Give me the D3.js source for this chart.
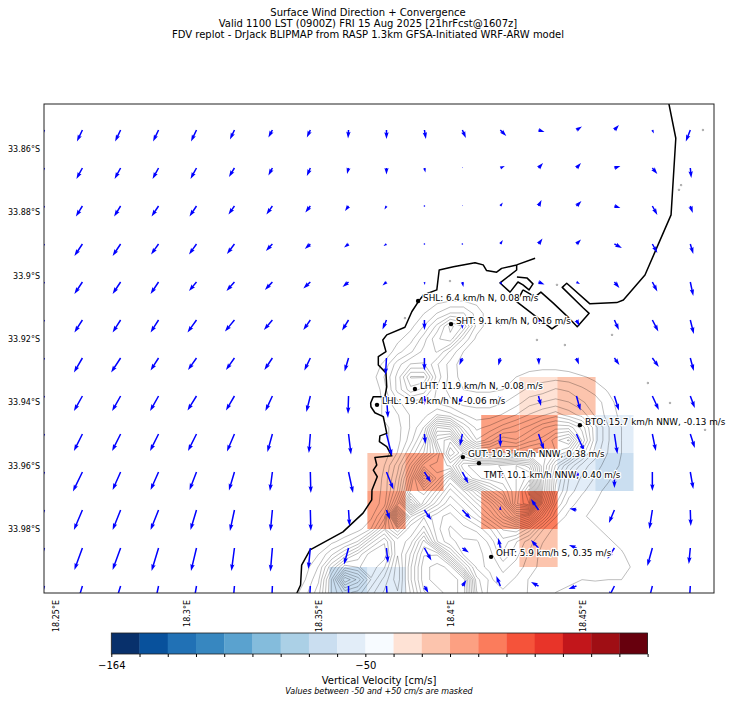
<!DOCTYPE html>
<html><head><meta charset="utf-8">
<script src="https://cdn.jsdelivr.net/npm/d3@7"></script>
<style>html,body{margin:0;padding:0;background:#fff}svg{display:block}text{font-family:"DejaVu Sans",sans-serif;fill:#000}</style>
</head><body><svg id="c" width="733" height="702"></svg>
<script>
const titleLines=["Surface Wind Direction + Convergence","Valid 1100 LST (0900Z) FRI 15 Aug 2025 [21hrFcst@1607z]","FDV replot - DrJack BLIPMAP from RASP 1.3km GFSA-Initiated WRF-ARW model"];
const lonTicks=[18.25,18.3,18.35,18.4,18.45];
const latTicks=[33.86,33.88,33.9,33.92,33.94,33.96,33.98];
const windLons=[18.2604,18.2749,18.2893,18.3037,18.3181,18.3325,18.3469,18.3614,18.3758,18.3902,18.4046,18.4190,18.4335,18.4479,18.4623,18.4767,18.4911];
const windLats=[33.8540,33.8660,33.8780,33.8900,33.9020,33.9140,33.9260,33.9380,33.9500,33.9620,33.9740,33.9860,33.9980];
const edgeLon=18.2460;
const windU=[
[-1.1,-1.1,-1.1,-1.1,-.9,-.8,-.7,-.1,0,.3,.7,1.2,1.2,1.1,.9,.3,-.9],
[-1.2,-1.2,-1.2,-1.2,-1.1,-.8,-.7,-.3,0,.2,.1,.9,.9,.9,1.2,1,.2],
[-1.3,-1.3,-1.4,-1.4,-1.2,-1.2,-1,-.7,-.4,.1,.1,.5,.6,1,1.2,1,.5],
[-1.6,-1.6,-1.5,-1.5,-1.5,-1.3,-1.1,-.9,-.6,0,0,.5,.8,.9,1.5,1,.6],
[-1.6,-1.6,-1.6,-1.5,-1.6,-1.5,-1.4,-1.2,-.8,.1,.2,.4,1.2,.7,1,1,.6],
[-1.6,-1.6,-1.6,-1.8,-1.9,-1.7,-1.4,-1.3,-.8,0,0,0,.3,.6,.9,1.2,.7],
[-1.7,-1.9,-1.6,-1.7,-1.7,-1.6,-1.2,-.8,-.2,0,-.6,-.4,.1,.5,1,1.3,.7],
[-1.7,-1.7,-1.7,-1.8,-1.7,-1.4,-.8,-.1,.3,0,-.8,0,.5,.8,.9,1.3,.9],
[-1.7,-1.7,-1.7,-1.7,-1.5,-1,-.3,.5,1.1,.2,-.5,0,1.1,1.6,.6,.7,.9],
[-1.9,-1.6,-1.6,-1.4,-1.1,-.5,.1,.9,1.4,1.3,1.2,.4,.1,.4,0,0,.6],
[-1.7,-1.6,-1.6,-1.2,-.9,-.4,.1,.2,.7,1.4,1.7,0,-1.5,-1.4,-1.1,-.6,.1],
[-1.6,-1.6,-1.4,-1.1,-.6,-.4,-.4,-.9,.3,1.4,1.3,-.4,-1.5,-1.5,-1.4,-1,-.3],
[-1.4,-1.4,-1,-.8,-.4,-.2,-.2,0,.2,.8,.8,-.8,-1.5,-1.6,-1.2,-.8,-.2]];
const windV=[
[-2.3,-2.3,-2.3,-2.3,-1.9,-1.5,-1.5,-1.7,-1.8,-1.8,-1.6,-1.2,-.4,.7,1,-.7,-2.3],
[-2.2,-2.2,-2.2,-2.2,-1.8,-1.5,-1.6,-1.2,-1.3,-.9,.2,.4,1,1,.4,-1.2,-2],
[-2.1,-2.1,-2.1,-2.1,-1.7,-1.7,-1.3,-1,-.7,0,.2,.7,1.2,1,-.4,-1.8,-1.4],
[-2.4,-2.4,-2.1,-2.1,-2,-1.4,-1,-.7,-.4,-.1,0,.8,1.1,.9,-.8,-1.8,-2],
[-2.4,-2.4,-2.4,-1.8,-1.8,-1.6,-1.3,-1,-.7,-.6,-1,-.6,-.5,-.4,-1.2,-1.9,-2.8],
[-2.5,-2.5,-2.5,-2.5,-2.3,-2,-2,-2.1,-1.9,-2,-1.8,-1.2,-1,-1.2,-2,-2.3,-2.8],
[-2.9,-2.9,-2.5,-2.4,-2.4,-2.4,-2.5,-2.7,-3.4,-2.5,-1.4,-1.5,-1.4,-1.3,-1.4,-1.8,-2.6],
[-3,-3,-3,-2.9,-2.9,-3,-3.2,-3.6,-4.4,-1.8,-1.8,-1.2,-2,-2.9,-2.9,-2.8,-2.4],
[-3.4,-3.4,-3.4,-3.4,-3.5,-3.6,-3.8,-4.1,-4.4,-2,-2.4,-2.6,-3.2,-3.5,-4,-3.4,-2.8],
[-3.9,-3.6,-3.6,-3.6,-3.7,-3.8,-4.2,-4.2,-3.5,-2.1,-2.3,-1,-1,-1.6,-3.2,-3.8,-3.4],
[-4,-4,-4,-4,-4.2,-4.2,-4.2,-3.2,-1.9,-2,-1.8,.8,2.2,.3,-2.6,-3.8,-3.2],
[-4.4,-4.4,-4.6,-4.6,-4.6,-4.7,-4.2,-3.3,-3,-2.5,-.9,2,1.6,.6,-2.2,-3.6,-3.2],
[-4.6,-4.4,-4.6,-4.6,-4.6,-4.6,-3.6,-3,-3,-1.4,1.2,2,.8,-.6,-2.4,-3.2,-3.2]];
const velCol=[12,13,11,12,14,8,9,13,14,8,11,12,12,7,8];
const velRow=[7,7,8,8,8,9,9,9,9,10,10,10,11,12,12];
const velVal=[56,69,82,82,-56,69,82,-56,-69,82,82,94,69,-69,-56];
const cbColors=["#08306b","#08519c","#2171b5","#3787c0","#5aa2cf","#84bcdc","#abd0e6","#cadef0","#e2edf8","#f7fbff","#fee2d5","#fcc4ad","#fca082","#fb7c5c","#f5533a","#e83429","#c2161b","#9f0e14","#67000d"];
const cbEdges=[-164,-151.3,-138.7,-126,-113.3,-100.7,-88,-75.3,-62.7,-50,50,62.7,75.3,88,100.7,113.3,126,138.7,151.3,164];
const cbLabels={0:"\u2212164",9:"\u221250"};
const stationNames=["SHL: 6.4 km/h N, 0.08 m/s","SHT: 9.1 km/h N, 0.16 m/s","LHT: 11.9 km/h N, -0.08 m/s","LHL: 19.4 km/h N, -0.06 m/s","BTO: 15.7 km/h NNW, -0.13 m/s","GUT: 10.3 km/h NNW, 0.38 m/s","TMT: 10.1 km/h NNW, 0.40 m/s","OHT: 5.9 km/h S, 0.35 m/s"];
const stationLons=[18.3878,18.4003,18.3866,18.3722,18.4492,18.4048,18.4109,18.4155];
const stationLats=[33.9080,33.9153,33.9358,33.9408,33.9472,33.9573,33.9592,33.9888];
const coastWest=[[18.3415,34.0024],[18.3418,34.0002],[18.3432,33.9977],[18.3436,33.9914],[18.3468,33.9866],[18.3593,33.9809],[18.3669,33.9750],[18.3702,33.9708],[18.3703,33.9677],[18.3723,33.9635],[18.3708,33.9614],[18.3721,33.9598],[18.3714,33.9574],[18.3778,33.9569],[18.3759,33.9540],[18.3731,33.9524],[18.3733,33.9506],[18.3759,33.9498],[18.3746,33.9445],[18.3714,33.9433],[18.3699,33.9414],[18.3698,33.9402],[18.3708,33.9382],[18.3752,33.9382],[18.3759,33.9351],[18.3756,33.9307],[18.3727,33.9282],[18.3727,33.9256],[18.3756,33.9240],[18.3744,33.9203],[18.3759,33.9187],[18.3828,33.9163],[18.3854,33.9114],[18.3879,33.9082],[18.3898,33.9061],[18.3949,33.9045],[18.3958,33.8982],[18.4012,33.8972],[18.4094,33.8959],[18.4125,33.8966],[18.4138,33.8984],[18.4176,33.8989],[18.4195,33.8977],[18.4252,33.8966],[18.4322,33.8945]];
const coastDock=[[18.4252,33.8966],[18.4252,33.8982],[18.4189,33.9023],[18.4227,33.9052],[18.4257,33.9020],[18.4276,33.9029],[18.4299,33.9045],[18.4314,33.9026],[18.4291,33.9007],[18.4253,33.9004]];
const coastBasin=[[18.4276,33.9045],[18.4253,33.9083],[18.4386,33.9168],[18.4447,33.9131],[18.4390,33.9086],[18.4344,33.9052],[18.4322,33.9067],[18.4276,33.9045]];
const coastEast=[[18.4447,33.9131],[18.4482,33.9161],[18.4527,33.9119],[18.4505,33.9102],[18.4425,33.9037],[18.4442,33.9024],[18.4530,33.9089],[18.4632,33.9085],[18.4657,33.9077],[18.4739,33.8998],[18.4777,33.8925],[18.4838,33.8808],[18.4856,33.8566],[18.4830,33.8458],[18.4823,33.8429]];
const rockLons=[18.4868,18.4876,18.4959,18.4750,18.4834,18.4967,18.3999,18.3828,18.4405,18.4614,18.4329,18.4435];
const rockLats=[33.8729,33.8714,33.8540,33.9339,33.9402,33.9487,33.9017,33.9134,33.9029,33.9187,33.9203,33.9219];
const terrainLon0=18.34,terrainLonStep=.005,terrainLat0=33.892,terrainLatStep=.004;
const terrainLevels=d3.range(40,1100,33);
const terrain=[
[0,0,0,0,0,0,0,0,0,0,0,0,0,0,0,0,0,0,0,0,0,0,0,0,0,0,0,0],
[0,0,0,0,0,0,0,0,0,0,0,0,0,0,0,0,0,0,0,0,0,0,0,0,0,0,0,0],
[0,0,0,0,0,0,0,0,0,0,0,0,0,0,0,0,0,0,0,0,0,0,0,0,0,0,0,0],
[0,0,0,0,0,0,0,0,0,0,0,0,0,0,0,0,0,0,0,0,0,0,0,0,0,0,0,0],
[0,0,0,0,0,0,0,0,0,0,10,30,40,40,30,10,0,0,0,0,0,0,0,0,0,0,0,0],
[0,0,0,0,0,0,0,0,0,10,40,75,110,110,60,20,0,0,0,0,0,0,0,0,0,0,0,0],
[0,0,0,0,0,0,0,0,10,30,75,150,250,200,60,20,0,0,0,0,0,0,0,0,0,0,0,0],
[0,0,0,0,0,0,0,0,30,60,125,200,225,100,30,10,0,0,0,0,0,0,0,0,0,0,0,0],
[0,0,0,0,0,0,0,10,60,100,150,175,100,40,15,0,0,0,0,0,0,0,0,0,0,0,0,0],
[0,0,0,0,0,0,10,50,125,175,175,110,60,20,10,0,0,10,20,25,25,20,0,0,0,0,0,0],
[0,0,0,0,0,0,20,75,150,275,275,125,60,25,20,20,30,40,55,60,60,55,45,30,10,0,0,0],
[0,0,0,0,0,0,0,60,150,225,190,100,60,40,35,35,40,60,80,90,110,100,80,60,35,10,0,0],
[0,0,0,0,0,0,0,50,100,125,125,100,80,60,60,60,70,90,125,140,150,140,110,90,55,20,0,0],
[0,0,0,0,0,0,0,50,70,110,125,175,150,110,90,90,110,140,175,200,225,190,160,100,60,30,0,0],
[0,0,0,0,0,0,0,30,60,110,175,375,350,200,130,150,190,220,250,300,325,325,260,150,75,40,0,0],
[0,0,0,0,0,0,0,30,60,125,225,475,525,300,175,225,300,275,325,350,425,475,300,150,75,40,0,0],
[0,0,0,0,0,0,0,20,75,175,275,400,600,500,375,375,375,400,425,450,400,350,225,125,70,40,0,0],
[0,0,0,0,0,0,0,40,125,250,425,450,475,625,650,650,675,700,650,450,300,200,125,85,60,35,0,0],
[0,0,0,0,0,0,0,50,150,325,575,425,300,550,625,650,660,700,750,450,250,140,100,70,45,20,0,0],
[0,0,0,0,0,0,15,50,175,375,425,325,225,300,400,525,600,700,850,475,225,125,80,50,30,0,0,0],
[0,0,0,0,0,0,10,60,250,525,350,250,175,225,300,375,500,725,800,400,175,90,55,40,20,0,0,0],
[0,0,0,0,0,5,30,125,550,275,200,150,125,175,225,300,400,525,450,250,110,60,45,30,10,0,0,0],
[0,0,0,0,5,25,75,200,300,175,250,150,100,125,150,200,275,300,225,110,60,55,60,45,30,0,0,0],
[0,0,10,30,60,110,225,300,175,225,350,175,110,100,100,150,225,175,120,75,50,55,60,60,45,30,0,0],
[0,10,40,100,175,250,325,325,175,275,400,400,225,100,90,125,200,150,100,60,45,50,60,60,60,45,20,0],
[0,25,75,200,325,300,325,275,150,300,425,450,425,225,100,110,150,125,90,60,50,50,55,55,55,50,35,10],
[10,40,100,275,500,425,300,225,150,300,425,450,450,425,150,100,125,100,70,60,55,50,40,45,40,40,30,0],
[20,60,125,275,350,325,250,200,175,275,400,425,450,425,175,90,100,90,70,55,40,30,20,0,0,0,0,0],
[20,60,125,275,350,325,250,200,175,275,400,425,450,425,175,90,100,90,70,55,40,30,20,0,0,0,0,0]];

const svg=d3.select("#c");
const xS=d3.scaleLinear([18.25,18.45],[55,582]);
const yS=d3.scaleLinear([33.86,33.98],[149,529]);
const frame={x:44,y:104,w:670,h:489};
svg.append("defs").append("clipPath").attr("id","map").append("rect").attr("x",frame.x).attr("y",frame.y).attr("width",frame.w).attr("height",frame.h);

svg.append("g").attr("text-anchor","middle").style("font-size","10px").selectAll("text").data(titleLines).join("text")
  .attr("x",368).attr("y",(d,i)=>15.5+i*11.3).text(d=>d);

const map=svg.append("g").attr("clip-path","url(#map)");
const velColor=d3.scaleThreshold(cbEdges.slice(1,19),cbColors);
const cellW=xS(windLons[1])-xS(windLons[0]),cellH=yS(windLats[1])-yS(windLats[0]);
map.append("g").selectAll("rect").data(velVal).join("rect")
  .attr("x",(d,k)=>xS(windLons[velCol[k]])-cellW/2).attr("y",(d,k)=>yS(windLats[velRow[k]])-cellH/2)
  .attr("width",cellW).attr("height",cellH).attr("fill",d=>velColor(d));

const flat=terrain.flat();
const contours=d3.contours().size([terrain[0].length,terrain.length]).thresholds(terrainLevels)(flat);
const geo=d3.geoPath(d3.geoTransform({point(x,y){
  this.stream.point(xS(terrainLon0+(x-.5)*terrainLonStep),yS(terrainLat0+(y-.5)*terrainLatStep));}}));
map.append("g").attr("fill","none").attr("stroke","#000").attr("stroke-opacity",.48).attr("stroke-width",.55)
  .selectAll("path").data(contours).join("path").attr("d",geo);
map.append("g").attr("fill","none").attr("stroke","#000").attr("stroke-opacity",.55).attr("stroke-width",.6)
  .selectAll("circle").data(rockLons).join("circle").attr("cx",d=>xS(d)).attr("cy",(d,i)=>yS(rockLats[i])).attr("r",.8);

const coastLine=d3.line().x(d=>xS(d[0])).y(d=>yS(d[1]));
map.append("g").attr("fill","none").attr("stroke","#000").attr("stroke-width",1.5).attr("stroke-linejoin","round")
  .selectAll("path").data([coastWest,coastDock,coastBasin,coastEast]).join("path").attr("d",coastLine);

const windScale=d3.scaleLinear([0,1],[0,5]);
function arrowPath(x,y,u,v){
  const dx=windScale(u),dy=-windScale(v),L=Math.hypot(dx,dy),w=.75,hl=6.8,hal=6,hw=2.2;
  const p=d3.path();
  if(L<1){p.arc(x,y,.8,0,7);return p.toString();}
  const k=L<hl?L/hl:1,ca=dx/L,sa=dy/L;
  const pts=[[0,w*k],[L-hal*k,w*k],[L-hl*k,hw*k],[L,0],[L-hl*k,-hw*k],[L-hal*k,-w*k],[0,-w*k]];
  pts.forEach((q,i)=>{const X=x+q[0]*ca-q[1]*sa,Y=y+q[0]*sa+q[1]*ca;i?p.lineTo(X,Y):p.moveTo(X,Y);});
  p.closePath();return p.toString();
}
const arrows=[];
windLats.forEach((lat,j)=>{
  arrows.push(arrowPath(xS(edgeLon),yS(lat),windU[j][0],windV[j][0]));
  windLons.forEach((lon,i)=>arrows.push(arrowPath(xS(lon),yS(lat),windU[j][i],windV[j][i])));
});
map.append("g").attr("fill","#0000ff").selectAll("path").data(arrows).join("path").attr("d",d=>d);

const st=svg.append("g");
st.selectAll("circle").data(stationLons).join("circle").attr("cx",d=>xS(d)).attr("cy",(d,i)=>yS(stationLats[i])).attr("r",2.2).attr("fill","#000");
const labelShift=[0,0,0,0,0,0,15,0];
st.selectAll("text").data(stationNames).join("text")
  .attr("x",(d,i)=>xS(stationLons[i])+5).attr("y",(d,i)=>yS(stationLats[i])-.5+labelShift[i])
  .style("font-size","8.8px").attr("stroke","#fff").attr("stroke-width",2.4).attr("paint-order","stroke").attr("stroke-linejoin","round").text(d=>d);

svg.append("rect").attr("x",frame.x).attr("y",frame.y).attr("width",frame.w).attr("height",frame.h).attr("fill","none").attr("stroke","#222").attr("stroke-width",1);

const axB=svg.append("g").attr("transform",`translate(0,${frame.y+frame.h})`)
  .call(d3.axisBottom(xS).tickValues(lonTicks).tickSize(0).tickFormat(d=>`${+d.toFixed(2)}\u00b0E`));
axB.select(".domain").remove();
axB.selectAll("text").attr("text-anchor","end").attr("dy",0).attr("y",0).attr("x",0)
  .attr("transform","translate(3,7) rotate(-90)").style("font-size","8px").style("font-family","'DejaVu Sans'");
const axL=svg.append("g").attr("transform",`translate(${frame.x},0)`)
  .call(d3.axisLeft(yS).tickValues(latTicks).tickSize(0).tickFormat(d=>`${+d.toFixed(2)}\u00b0S`));
axL.select(".domain").remove();
axL.selectAll("text").attr("x",-4).style("font-size","8px").style("font-family","'DejaVu Sans'");

const cbS=d3.scaleLinear([0,cbColors.length],[111.3,647.6]);
const cbTop=633,cbH=21;
const cb=svg.append("g");
cb.selectAll("rect").data(cbColors).join("rect").attr("x",(d,i)=>cbS(i)).attr("y",cbTop).attr("width",cbS(1)-cbS(0)+.3).attr("height",cbH).attr("fill",d=>d);
cb.append("rect").attr("x",cbS(0)).attr("y",cbTop).attr("width",cbS(19)-cbS(0)).attr("height",cbH).attr("fill","none").attr("stroke","#222").attr("stroke-width",.8);
const cbAx=svg.append("g").attr("transform",`translate(0,${cbTop+cbH})`)
  .call(d3.axisBottom(cbS).tickValues(d3.range(0,20)).tickSize(3).tickFormat(d=>cbLabels[d]||""));
cbAx.select(".domain").remove();
cbAx.selectAll("text").attr("y",8).style("font-size","10px").style("font-family","'DejaVu Sans'");
svg.append("text").attr("x",379).attr("y",684).attr("text-anchor","middle").style("font-size","10px").text("Vertical Velocity [cm/s]");
svg.append("text").attr("x",379).attr("y",694).attr("text-anchor","middle").style("font-size","8px").style("font-style","italic").text("Values between -50 and +50 cm/s are masked");
</script></body></html>
